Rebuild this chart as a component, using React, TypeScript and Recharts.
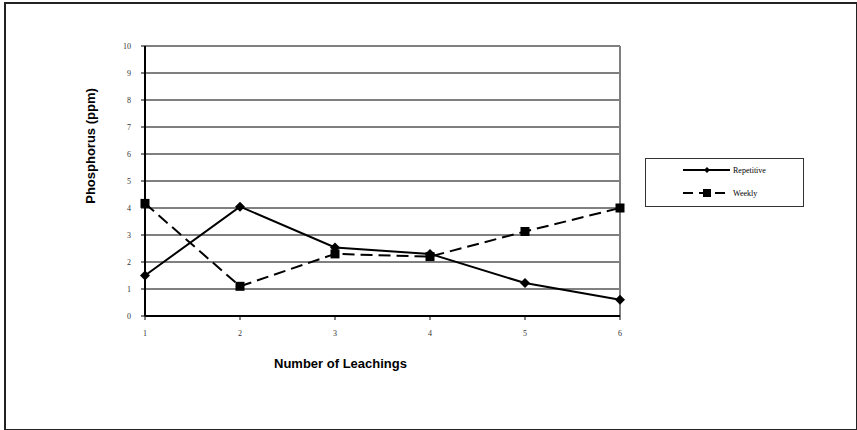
import {
  LineChart,
  Line,
  XAxis,
  YAxis,
  CartesianGrid,
  ReferenceLine,
  Label,
} from "recharts"

const leachings = [1, 2, 3, 4, 5, 6]
const repetitive = [1.5, 4.05, 2.54, 2.3, 1.22, 0.6]
const weekly = [4.17, 1.1, 2.3, 2.2, 3.13, 4.0]
const yTicks = [0, 1, 2, 3, 4, 5, 6, 7, 8, 9, 10]

const data = leachings.map((x, i) => ({
  x,
  repetitive: repetitive[i],
  weekly: weekly[i],
}))

const tickStyle = {
  fontSize: 8,
  fill: "#333",
  fontFamily: "'Liberation Serif', serif",
}
const titleStyle = {
  fontSize: 13,
  fontWeight: "bold" as const,
  fontFamily: "'Liberation Sans', Arial, sans-serif",
  fill: "#000",
}

function Diamond(props: any) {
  const { cx, cy } = props
  if (cx == null || cy == null) return null
  return (
    <polygon
      points={`${cx},${cy - 5} ${cx + 5},${cy} ${cx},${cy + 5} ${cx - 5},${cy}`}
      fill="#000"
    />
  )
}

function Square(props: any) {
  const { cx, cy } = props
  if (cx == null || cy == null) return null
  return <rect x={cx - 4.5} y={cy - 4.5} width={9} height={9} fill="#000" />
}

function YTitle(props: any) {
  const vb = props.viewBox || {}
  const x = vb.x - 25
  const y = vb.y + vb.height / 2 - 35
  return (
    <text
      x={x}
      y={y}
      transform={`rotate(-90, ${x}, ${y})`}
      textAnchor="middle"
      dominantBaseline="central"
      style={titleStyle}
    >
      Phosphorus (ppm)
    </text>
  )
}

function XTitle(props: any) {
  const vb = props.viewBox || {}
  const x = vb.x + vb.width / 2 - 42
  const y = vb.y + 47
  return (
    <text x={x} y={y} textAnchor="middle" dominantBaseline="central" style={titleStyle}>
      Number of Leachings
    </text>
  )
}

function LegendBox() {
  return (
    <svg
      width={160}
      height={50}
      style={{ position: "absolute", left: 645, top: 158 }}
    >
      <rect x={0.5} y={0.5} width={158} height={48} fill="#fff" stroke="#333" />
      <line x1={38} y1={12} x2={85} y2={12} stroke="#000" strokeWidth={2} />
      <polygon points="62,9 65,12 62,15 59,12" fill="#000" />
      <text x={88} y={15} fontSize={8} fontFamily="'Liberation Serif', serif" fill="#000">
        Repetitive
      </text>
      <line
        x1={38}
        y1={35}
        x2={85}
        y2={35}
        stroke="#000"
        strokeWidth={2}
        strokeDasharray="10 6"
      />
      <rect x={58} y={31} width={8} height={8} fill="#000" />
      <text x={88} y={38} fontSize={8} fontFamily="'Liberation Serif', serif" fill="#000">
        Weekly
      </text>
    </svg>
  )
}

export default function App() {
  return (
    <div
      style={{
        position: "absolute",
        left: 0,
        top: 0,
        width: 857,
        height: 430,
        background: "#fff",
      }}
    >
      <div
        style={{
          position: "absolute",
          left: 4,
          top: 2,
          width: 850,
          height: 425,
          border: "2px solid #222",
        }}
      />
      <LineChart
        width={857}
        height={430}
        data={data}
        margin={{ top: 46, right: 237, bottom: 84, left: 115 }}
        style={{ position: "absolute", left: 0, top: 0 }}
      >
        <CartesianGrid
          vertical={false}
          stroke="#000"
          strokeDasharray="0"
          horizontalValues={yTicks}
        />
        <XAxis
          type="number"
          dataKey="x"
          domain={[1, 6]}
          ticks={leachings}
          height={30}
          tick={tickStyle}
          tickSize={4}
          tickMargin={10}
          axisLine={{ stroke: "#000", strokeWidth: 2 }}
          tickLine={{ stroke: "#000" }}
        >
          <Label content={<XTitle />} />
        </XAxis>
        <YAxis
          type="number"
          domain={[0, 10]}
          ticks={yTicks}
          width={30}
          tick={tickStyle}
          tickSize={4}
          tickMargin={10}
          interval={0}
          axisLine={{ stroke: "#000", strokeWidth: 2 }}
          tickLine={{ stroke: "#000" }}
        >
          <Label content={<YTitle />} />
        </YAxis>
        <ReferenceLine y={10} stroke="#808080" strokeWidth={2} />
        <ReferenceLine x={6} stroke="#808080" strokeWidth={2} />
        <Line
          dataKey="repetitive"
          stroke="#000"
          strokeWidth={2}
          dot={<Diamond />}
          activeDot={false}
          isAnimationActive={false}
        />
        <Line
          dataKey="weekly"
          stroke="#000"
          strokeWidth={2}
          strokeDasharray="12 6"
          dot={<Square />}
          activeDot={false}
          isAnimationActive={false}
        />
      </LineChart>
      <LegendBox />
    </div>
  )
}
